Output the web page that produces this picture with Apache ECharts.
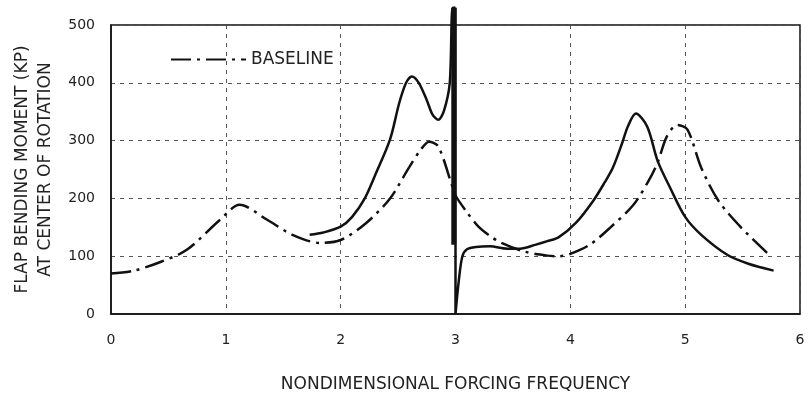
<!DOCTYPE html>
<html><head><meta charset="utf-8">
<script src="https://cdn.jsdelivr.net/npm/echarts@6/dist/echarts.min.js"></script>
<style>html,body{margin:0;padding:0;background:#fff}#c{width:808px;height:406px}</style>
</head><body><div id="c"></div>
<script>
var xTicks = [0, 1, 2, 3, 4, 5, 6];
var yTicks = [0, 100, 200, 300, 400, 500];
var baselineX = [0, 0.2, 0.43, 0.66, 0.95, 1.12, 1.36, 1.58, 1.82, 2.0, 2.22, 2.43, 2.6, 2.7, 2.77, 2.85, 2.97, 3.0, 3.1, 3.2, 3.3, 3.4, 3.6, 3.8, 3.9, 4.0, 4.17, 4.35, 4.55, 4.68, 4.76, 4.84, 4.93, 5.02, 5.14, 5.29, 5.49, 5.75];
var baselineY = [70, 75, 90, 111, 163, 189, 163, 137, 123, 128, 157, 200, 255, 285, 298, 290, 222, 205, 176, 151, 135, 123, 108, 101, 100, 104, 120, 150, 189, 230, 262, 307, 327, 319, 253, 196, 149, 99];
var modLowX = [1.73, 1.85, 2.0, 2.1, 2.21, 2.3, 2.43, 2.51, 2.57, 2.62, 2.68, 2.75, 2.8, 2.85, 2.9, 2.95, 2.975, 3.0];
var modLowY = [137, 141, 151, 168, 200, 240, 302, 365, 400, 411, 400, 370, 345, 336, 352, 400, 530, 530];
var modHighX = [3.0, 3.0, 3.03, 3.06, 3.1, 3.18, 3.3, 3.45, 3.56, 3.7, 3.8, 3.9, 4.05, 4.2, 4.3, 4.37, 4.45, 4.5, 4.57, 4.67, 4.76, 4.87, 5.0, 5.14, 5.37, 5.55, 5.77];
var modHighY = [530, 0, 60, 100, 112, 116, 117, 113, 113, 120, 126, 133, 158, 196, 228, 253, 295, 324, 347, 324, 265, 218, 168, 137, 102, 87, 75];
var spikeX = [2.985, 2.985];
var spikeY = [530, 120];

function pairs(xs, ys) { return xs.map(function (x, i) { return [x, ys[i]]; }); }
var FONT = 'DejaVu Sans';
var chart = echarts.init(document.getElementById('c'), null, {renderer: 'canvas'});
var solid = {color: '#111', width: 2.5};
chart.setOption({
  animation: false,
  backgroundColor: '#fff',
  grid: {left: 111, right: 8, top: 25, bottom: 92, show: true, borderColor: '#111', borderWidth: 1.5},
  legend: {
    data: ['BASELINE'], left: 165, top: 46, itemWidth: 75, itemHeight: 12, itemGap: 18,
    itemStyle: {opacity: 0},
    textStyle: {fontFamily: FONT, fontSize: 17, color: '#222'}
  },
  xAxis: {
    type: 'value', min: xTicks[0], max: xTicks[xTicks.length - 1], interval: 1,
    name: 'NONDIMENSIONAL FORCING FREQUENCY', nameLocation: 'middle', nameGap: 62,
    nameTextStyle: {fontFamily: FONT, fontSize: 17, color: '#222'},
    axisLine: {show: true, lineStyle: {color: '#111', width: 1.5}},
    axisTick: {show: false},
    axisLabel: {fontFamily: FONT, fontSize: 14, color: '#222', margin: 19},
    splitLine: {show: true, lineStyle: {color: '#555', type: [4, 5], width: 1}}
  },
  yAxis: {
    type: 'value', min: yTicks[0], max: yTicks[yTicks.length - 1], interval: 100,
    name: 'FLAP BENDING MOMENT (KP)\nAT CENTER OF ROTATION', nameLocation: 'middle', nameGap: 50, nameRotate: 90,
    nameTextStyle: {fontFamily: FONT, fontSize: 17, color: '#222', lineHeight: 23},
    axisLine: {show: true, lineStyle: {color: '#111', width: 1.5}},
    axisTick: {show: false},
    axisLabel: {fontFamily: FONT, fontSize: 14, color: '#222', margin: 16},
    splitLine: {show: true, lineStyle: {color: '#555', type: [4, 5], width: 1}}
  },
  series: [
    {
      name: 'BASELINE', type: 'line', data: pairs(baselineX, baselineY), smooth: 0.3,
      symbol: 'none', clip: true,
      lineStyle: {color: '#111', width: 2.5, type: [20, 6, 3, 6]},
      itemStyle: {color: '#111'}
    },
    {
      name: 'MODIFIED', type: 'line', data: pairs(modLowX, modLowY), smooth: 0.3,
      symbol: 'none', clip: false, lineStyle: solid, itemStyle: {color: '#111'}
    },
    {
      name: 'MODIFIED2', type: 'line', data: pairs(modHighX, modHighY), smooth: 0.3,
      symbol: 'none', clip: false, lineStyle: solid, itemStyle: {color: '#111'}
    },
    {
      name: 'SPIKE', type: 'line', data: pairs(spikeX, spikeY),
      symbol: 'none', clip: false,
      lineStyle: {color: '#111', width: 5},
      itemStyle: {color: '#111'}
    }
  ]
});
</script></body></html>
